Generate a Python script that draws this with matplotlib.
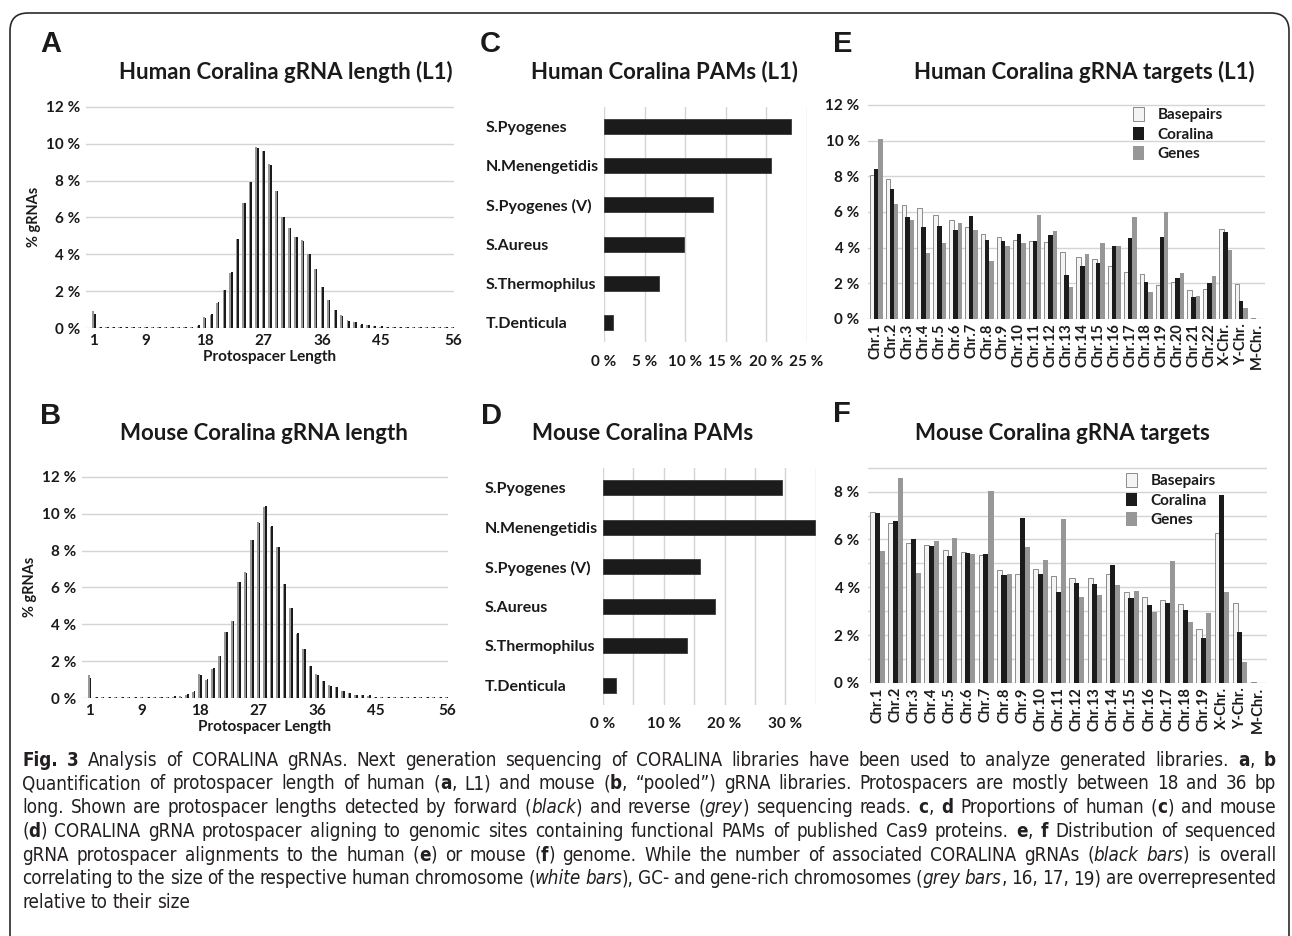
import re

import matplotlib
matplotlib.use("Agg")
import matplotlib.pyplot as plt
import numpy as np
from matplotlib import font_manager
from matplotlib.font_manager import FontProperties
from matplotlib.patches import FancyBboxPatch, Patch
from matplotlib.ticker import FuncFormatter
from matplotlib.transforms import IdentityTransform

W, H = 1292, 936

# ---- panel A / B: protospacer length histograms (lengths 1..56) ----
LENGTHS = list(range(1, 57))
LEN_TICKS = [1, 9, 18, 27, 36, 45, 56]

human_fwd = ([0.75] + [0.03] * 14 +
             [0.05, 0.15, 0.55, 0.75, 1.4, 2.05, 3.05, 4.85, 6.8, 7.9, 9.75, 9.6,
              8.85, 7.45, 6.05, 5.45, 4.95, 4.7, 4.0, 3.2, 2.25, 1.5, 0.95, 0.65,
              0.4, 0.3, 0.2, 0.15, 0.12, 0.1, 0.05, 0.05, 0.08, 0.05] + [0.03] * 7)
human_rev = ([0.92] + [0.03] * 14 +
             [0.04, 0.1, 0.62, 0.7, 1.35, 2.05, 3.0, 4.85, 6.8, 7.9, 9.8, 9.6,
              8.9, 7.45, 6.0, 5.45, 4.95, 4.75, 4.0, 3.2, 2.2, 1.5, 0.98, 0.7,
              0.45, 0.3, 0.18, 0.15, 0.12, 0.08, 0.05, 0.05, 0.08, 0.04] + [0.03] * 7)

mouse_fwd = ([1.1] + [0.03] * 11 +
             [0.05, 0.1, 0.08, 0.2, 0.4, 1.25, 1.05, 1.65, 2.3, 3.6, 4.2, 6.3,
              6.8, 8.6, 9.5, 10.4, 9.35, 8.2, 6.2, 4.9, 3.55, 2.65, 1.75, 1.25,
              0.9, 0.65, 0.6, 0.4, 0.25, 0.15, 0.15, 0.15, 0.08, 0.05, 0.05,
              0.05, 0.08] + [0.03] * 7)
mouse_rev = ([1.25] + [0.03] * 11 +
             [0.05, 0.08, 0.1, 0.18, 0.35, 1.3, 1.0, 1.6, 2.3, 3.6, 4.2, 6.3,
              6.85, 8.6, 9.55, 10.35, 9.3, 8.2, 6.2, 4.9, 3.5, 2.65, 1.75, 1.3,
              0.9, 0.7, 0.6, 0.4, 0.25, 0.15, 0.15, 0.12, 0.08, 0.05, 0.05,
              0.05, 0.08] + [0.03] * 7)

# ---- panel C / D: PAM proportions ----
PAMS = ["S.Pyogenes", "N.Menengetidis", "S.Pyogenes (V)", "S.Aureus",
        "S.Thermophilus", "T.Denticula"]
human_pam = [23.1, 20.6, 13.5, 9.9, 6.8, 1.15]
mouse_pam = [29.4, 34.9, 15.9, 18.4, 13.9, 2.1]

# ---- panel E: human chromosomes ----
HUMAN_CHR = [f"Chr.{i}" for i in range(1, 23)] + ["X-Chr.", "Y-Chr.", "M-Chr."]
human_bp = [8.09, 7.85, 6.4, 6.2, 5.84, 5.54, 5.17, 4.74, 4.6, 4.41, 4.39, 4.33,
            3.76, 3.48, 3.35, 2.96, 2.64, 2.55, 1.93, 2.07, 1.6, 1.69, 5.02, 1.95, 0.03]
human_cor = [8.39, 7.26, 5.73, 5.17, 5.23, 5.0, 5.77, 4.43, 4.37, 4.74, 4.35, 4.73,
             2.49, 2.98, 3.13, 4.09, 4.52, 2.08, 4.58, 2.29, 1.23, 2.03, 4.87, 1.02, 0.02]
human_gen = [10.08, 6.46, 5.53, 3.7, 4.28, 5.36, 4.99, 3.27, 4.09, 4.24, 5.82, 4.95,
             1.77, 3.67, 4.24, 4.09, 5.69, 1.53, 6.01, 2.59, 1.27, 2.4, 3.85, 0.63, 0.02]

# ---- panel F: mouse chromosomes ----
MOUSE_CHR = [f"Chr.{i}" for i in range(1, 20)] + ["X-Chr.", "Y-Chr.", "M-Chr."]
mouse_bp = [7.15, 6.69, 5.86, 5.75, 5.56, 5.49, 5.35, 4.74, 4.57, 4.78, 4.47, 4.4,
            4.4, 4.57, 3.82, 3.58, 3.47, 3.32, 2.25, 6.28, 3.35, 0.03]
mouse_cor = [7.1, 6.76, 6.0, 5.74, 5.33, 5.43, 5.4, 4.51, 6.88, 4.57, 3.8, 4.18,
             4.14, 4.93, 3.56, 3.25, 3.33, 3.04, 1.9, 7.85, 2.14, 0.02]
mouse_gen = [5.5, 8.57, 4.6, 5.92, 6.08, 5.39, 8.04, 4.57, 5.67, 5.13, 6.86, 3.6,
             3.67, 4.1, 3.86, 2.97, 5.1, 2.57, 2.93, 3.79, 0.86, 0.02]

CAPTION = [
    "**Fig. 3** Analysis of CORALINA gRNAs. Next generation sequencing of CORALINA libraries have been used to analyze generated libraries. **a**, **b**",
    "Quantification of protospacer length of human (**a**, L1) and mouse (**b**, \u201cpooled\u201d) gRNA libraries. Protospacers are mostly between 18 and 36 bp",
    "long. Shown are protospacer lengths detected by forward (_black_) and reverse (_grey_) sequencing reads. **c**, **d** Proportions of human (**c**) and mouse",
    "(**d**) CORALINA gRNA protospacer aligning to genomic sites containing functional PAMs of published Cas9 proteins. **e**, **f** Distribution of sequenced",
    "gRNA protospacer alignments to the human (**e**) or mouse (**f**) genome. While the number of associated CORALINA gRNAs (_black bars_) is overall",
    "correlating to the size of the respective human chromosome (_white bars_), GC- and gene-rich chromosomes (_grey bars_, 16, 17, 19) are overrepresented",
    "relative to their size",
]

BLACK = "#1b1b1b"
GREY = "#979797"
GRID = "#d4d4d4"
TXT = "#1a1a1a"
FONT = "Lato"

plt.rcParams["font.family"] = [FONT, "DejaVu Sans"]
plt.rcParams["font.weight"] = "bold"
plt.rcParams["axes.labelweight"] = "bold"
plt.rcParams["text.color"] = TXT
plt.rcParams["axes.labelcolor"] = TXT
plt.rcParams["xtick.color"] = TXT
plt.rcParams["ytick.color"] = TXT


def caption_files():
    # condensed DejaVu files if present, keyed by style code
    wanted = {"n": "DejaVuSansCondensed.ttf", "b": "DejaVuSansCondensed-Bold.ttf",
              "i": "DejaVuSansCondensed-Oblique.ttf"}
    found = {}
    for f in font_manager.fontManager.ttflist:
        for key, base in wanted.items():
            if f.fname.endswith("/" + base):
                found[key] = f.fname
    return found if len(found) == 3 else None


CAP_FILES = caption_files()


def cap_props(style, size):
    if CAP_FILES:
        return FontProperties(fname=CAP_FILES[style], size=size)
    return FontProperties(family="DejaVu Sans", size=size,
                          weight="bold" if style == "b" else "normal",
                          style="italic" if style == "i" else "normal")


def px_axes(fig, left, top, right, bottom):
    return fig.add_axes([left / W, 1 - bottom / H, (right - left) / W, (bottom - top) / H])


def clean(ax):
    for s in ax.spines.values():
        s.set_visible(False)
    ax.tick_params(length=0)
    ax.set_axisbelow(True)


def pct(v, _):
    return f"{v:.0f} %"


def length_hist(fig, box, fwd, rev, title, title_xy):
    ax = px_axes(fig, *box)
    x = np.array(LENGTHS)
    ax.bar(x - 0.13, rev, width=0.26, color=GREY, linewidth=0)
    ax.bar(x + 0.13, fwd, width=0.26, color=BLACK, linewidth=0)
    clean(ax)
    ax.set_xlim(-0.2, 56.2)
    ax.set_ylim(0, 12.05)
    ax.set_yticks(range(0, 13, 2))
    ax.yaxis.set_major_formatter(FuncFormatter(pct))
    ax.set_xticks(LEN_TICKS)
    ax.grid(axis="y", color=GRID, linewidth=1)
    ax.tick_params(labelsize=11, pad=4)
    ax.set_xlabel("Protospacer Length", fontsize=11, labelpad=2)
    ax.set_ylabel("% gRNAs", fontsize=10.5, labelpad=4)
    fig.text(title_xy[0] / W, 1 - title_xy[1] / H, title, fontsize=16,
             ha="center", va="center")
    return ax


def pam_bars(fig, box, vals, xmax, grid_step, label_step, title, title_xy):
    ax = px_axes(fig, *box)
    y = np.arange(len(PAMS))
    ax.barh(y, vals, height=0.38, color=BLACK, edgecolor="#3a3a3a", linewidth=0.6)
    clean(ax)
    ax.set_ylim(len(PAMS) - 0.5, -0.5)
    ax.set_xlim(0, xmax + 0.05)
    ticks = np.arange(0, xmax + 0.1, grid_step)
    ax.set_xticks(ticks)
    ax.set_xticklabels([f"{t:.0f} %" if t % label_step == 0 else "" for t in ticks])
    ax.grid(axis="x", color=GRID, linewidth=1)
    ax.set_yticks(y)
    ax.set_yticklabels(PAMS, ha="left", fontsize=11.5)
    ax.tick_params(axis="y", pad=85)
    ax.tick_params(axis="x", labelsize=11, pad=9)
    fig.text(title_xy[0] / W, 1 - title_xy[1] / H, title, fontsize=16,
             ha="center", va="center")
    return ax


def chrom_bars(fig, box, cats, bp, cor, gen, title, title_xy, leg_xy):
    ax = px_axes(fig, *box)
    x = np.arange(len(cats))
    ax.bar(x - 0.25, bp, width=0.28, color="#f4f4f4", edgecolor="#7a7a7a", linewidth=0.6)
    ax.bar(x, cor, width=0.28, color=BLACK, linewidth=0)
    ax.bar(x + 0.28, gen, width=0.28, color=GREY, linewidth=0)
    clean(ax)
    ax.set_xlim(-0.5, len(cats) - 0.5)
    ax.set_xticks(x)
    ax.set_xticklabels(cats, rotation=90, fontsize=10.5)
    ax.tick_params(axis="x", pad=3)
    ax.tick_params(axis="y", labelsize=11, pad=6)
    ax.grid(axis="y", color=GRID, linewidth=1)
    handles = [Patch(facecolor="#f4f4f4", edgecolor="#7a7a7a", linewidth=0.6, label="Basepairs"),
               Patch(facecolor=BLACK, label="Coralina"),
               Patch(facecolor=GREY, label="Genes")]
    fig.legend(handles=handles, loc="upper left", bbox_to_anchor=(leg_xy[0] / W, 1 - leg_xy[1] / H),
               bbox_transform=fig.transFigure, frameon=False, borderpad=0, borderaxespad=0,
               handlelength=0.7, handleheight=1.0, handletextpad=0.9, labelspacing=0.3,
               prop={"family": FONT, "weight": "bold", "size": 11})
    fig.text(title_xy[0] / W, 1 - title_xy[1] / H, title, fontsize=16,
             ha="center", va="center")
    return ax


def parse_line(line):
    segs = []
    for part in re.split(r"(\*\*.*?\*\*|_.*?_)", line):
        if not part:
            continue
        if part.startswith("**"):
            segs.append((part[2:-2], "b"))
        elif part.startswith("_"):
            segs.append((part[1:-1], "i"))
        else:
            segs.append((part, "n"))
    words = [[]]
    for text, style in segs:
        for k, piece in enumerate(text.split(" ")):
            if k > 0:
                words.append([])
            if piece:
                words[-1].append((piece, style))
    return [w for w in words if w]


def place_line(fig, line, y, size, r):
    words, widths = [], []
    for w in parse_line(line):
        parts, total = [], 0
        for text, style in w:
            t = fig.text(0, y, text, fontproperties=cap_props(style, size),
                         ha="left", va="center", color="#231f20")
            wd = t.get_window_extent(renderer=r).width
            parts.append((t, wd))
            total += wd
        words.append(parts)
        widths.append(total)
    return words, widths


def draw_caption(fig, lines, left, right, top, step, size):
    r = fig.canvas.get_renderer()
    space = size * 100 / 72 * 0.22
    # shrink the type if a line would not fit with normal word spaces
    for _ in range(6):
        need = 0
        for line in lines[:-1]:
            words, widths = place_line(fig, line, 0, size, r)
            need = max(need, sum(widths) + space * (len(words) - 1))
            for parts in words:
                for t, _w in parts:
                    t.remove()
        if need <= right - left:
            break
        size *= (right - left) / need * 0.995
        space = size * 100 / 72 * 0.22
    for i, line in enumerate(lines):
        y = 1 - (top + i * step) / H
        words, widths = place_line(fig, line, y, size, r)
        if i == len(lines) - 1:
            gap = space * 1.2
        else:
            gap = (right - left - sum(widths)) / (len(words) - 1)
        xpos = left
        for parts in words:
            for t, wd in parts:
                t.set_x(xpos / W)
                xpos += wd
            xpos += gap


fig = plt.figure(figsize=(W / 100, H / 100), dpi=100)
fig.patch.set_facecolor("white")

fig.add_artist(FancyBboxPatch((10, -30), 1279, H - 13 + 30,
                              boxstyle="round,pad=0,rounding_size=18",
                              transform=IdentityTransform(), facecolor="none",
                              edgecolor="#2a2a2a", linewidth=1.2))

length_hist(fig, (86, 106, 454, 328), human_fwd, human_rev,
            "Human Coralina gRNA length (L1)", (286, 72))
length_hist(fig, (82, 476, 448, 698), mouse_fwd, mouse_rev,
            "Mouse Coralina gRNA length", (264, 433))

pam_bars(fig, (604, 107, 807, 342), human_pam, 25, 5, 5,
         "Human Coralina PAMs (L1)", (665, 72))
pam_bars(fig, (603, 468, 816, 705), mouse_pam, 35, 5, 10,
         "Mouse Coralina PAMs", (643, 433))

axe = chrom_bars(fig, (868, 104, 1265, 319), HUMAN_CHR, human_bp, human_cor, human_gen,
                 "Human Coralina gRNA targets (L1)", (1084, 72), (1133, 107))
axe.set_ylim(0, 12.05)
axe.set_yticks(range(0, 13, 2))
axe.yaxis.set_major_formatter(FuncFormatter(pct))

axf = chrom_bars(fig, (868, 467, 1267, 683), MOUSE_CHR, mouse_bp, mouse_cor, mouse_gen,
                 "Mouse Coralina gRNA targets", (1062, 433), (1126, 473))
axf.set_ylim(0, 9.03)
axf.set_yticks(range(0, 10))
axf.set_yticklabels([f"{v} %" if v % 2 == 0 else "" for v in range(0, 10)])

for letter, (lx, ly) in {"A": (40, 44), "B": (40, 416), "C": (480, 44),
                         "D": (481, 416), "E": (833, 44), "F": (833, 414)}.items():
    fig.text(lx / W, 1 - ly / H, letter, fontsize=21, fontweight="bold",
             family="Liberation Sans", ha="left", va="center")

draw_caption(fig, CAPTION, 22, 1276, 760, 23.8, 14.5)

fig.savefig("out.png", dpi=100)
